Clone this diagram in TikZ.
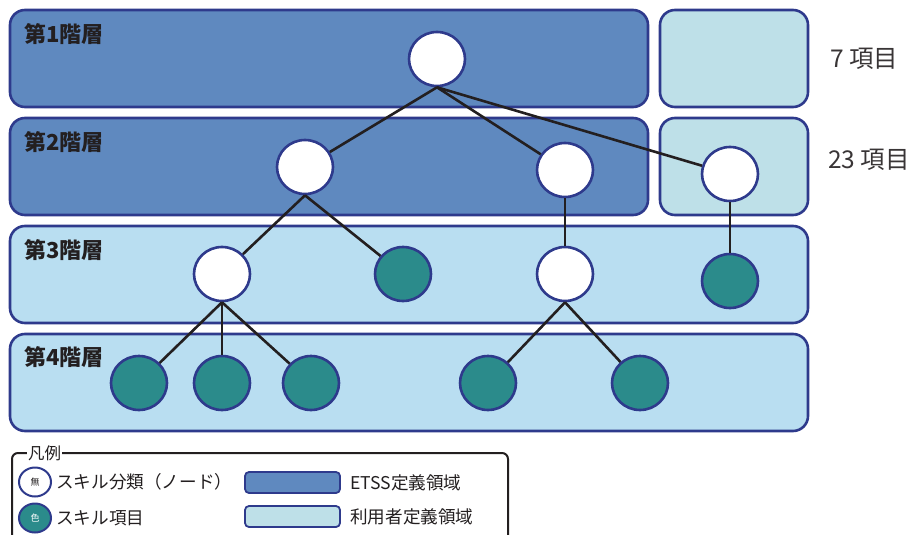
\documentclass[tikz,border=0pt]{standalone}
\usepackage{fontspec}
\setmainfont{Noto Sans CJK JP}
\usetikzlibrary{shapes.geometric}
\definecolor{navy}{HTML}{2E3A8C}
\definecolor{etss}{HTML}{5F89BF}
\definecolor{user}{HTML}{BEE0E8}
\definecolor{tier}{HTML}{B9DEF1}
\definecolor{skill}{HTML}{2B8B8B}
\definecolor{ink}{HTML}{231F20}
\tikzset{
  area/.style={draw=navy, line width=2.6pt, rounded corners=15pt},
  cls/.style={ellipse, draw=navy, line width=2.6pt, fill=white, minimum width=56pt, minimum height=54pt, inner sep=0pt},
  item/.style={cls, fill=skill},
  link/.style={draw=ink, line width=2.6pt},
  tierlab/.style={font=\fontsize{22}{22}\selectfont\bfseries, text=ink, anchor=west, inner sep=0pt},
  count/.style={font=\fontsize{24.5}{24.5}\selectfont, text=ink!90, anchor=west, inner sep=0pt},
  leg/.style={font=\fontsize{17.6}{17.6}\selectfont, text=ink, anchor=west, inner sep=0pt},
  legcls/.style={ellipse, draw=navy, line width=2pt, minimum width=32pt, minimum height=29pt, inner sep=0pt, font=\fontsize{9}{9}\selectfont},
  legbox/.style={draw=navy, line width=1.8pt, rounded corners=4pt},
}
\begin{document}
\begin{tikzpicture}[x=1pt,y=-1pt]
  \useasboundingbox (0,0) rectangle (915,535);

  \draw[area, fill=etss] (10,10) rectangle (648,107);
  \draw[area, fill=user] (660,10) rectangle (808,107);
  \draw[area, fill=etss] (10,118) rectangle (648,215);
  \draw[area, fill=user] (660,118) rectangle (808,215);
  \draw[area, fill=tier] (10,226) rectangle (808,323);
  \draw[area, fill=tier] (10,334) rectangle (808,431);

  \node[tierlab] (t1) at (24,34) {第1階層};
  \node[tierlab] (t2) at (24,142) {第2階層};
  \node[tierlab] (t3) at (24,250) {第3階層};
  \node[tierlab] (t4) at (24,357) {第4階層};
  \node[count] (c1) at (830,59) {7 項目};
  \node[count] (c2) at (828,160) {23 項目};

  \node[cls] (n1) at (437,59) {};
  \node[cls] (n21) at (305,167) {};
  \node[cls] (n22) at (565,170) {};
  \node[cls] (n23) at (730,174) {};
  \node[cls] (n31) at (222,274) {};
  \node[item] (n32) at (403,274) {};
  \node[cls] (n33) at (565,274) {};
  \node[item] (n34) at (730,281) {};
  \node[item] (n41) at (139,383) {};
  \node[item] (n42) at (222,383) {};
  \node[item] (n43) at (311,383) {};
  \node[item] (n44) at (488,383) {};
  \node[item] (n45) at (640,383) {};

  \draw[link] (n1.south) -- (n21);
  \draw[link] (n1.south) -- (n22);
  \draw[link] (n1.south) -- (n23);
  \draw[link] (n21.south) -- (n31);
  \draw[link] (n21.south) -- (n32);
  \draw[link] (n22) -- (n33);
  \draw[link] (n23) -- (n34);
  \draw[link] (n31.south) -- (n41);
  \draw[link] (n31.south) -- (n42);
  \draw[link] (n31.south) -- (n43);
  \draw[link] (n33.south) -- (n44);
  \draw[link] (n33.south) -- (n45);

  % legend
  \draw[draw=ink, line width=2pt, rounded corners=6pt] (12,545) -- (12,453) -- (508,453) -- (508,545);
  \node[leg, fill=white, inner xsep=1pt, font=\fontsize{16.5}{16.5}\selectfont] (lt) at (27,453) {凡例};
  \node[legcls, fill=white, text=ink] (l1) at (35,482) {無};
  \node[legcls, fill=skill, text=white] (l2) at (35,518) {色};
  \node[leg] (l1t) at (56,482) {スキル分類（ノード）};
  \node[leg] (l2t) at (56,518) {スキル項目};
  \draw[legbox, fill=etss] (245,472) rectangle (340,493);
  \draw[legbox, fill=user] (245,506) rectangle (340,527);
  \node[leg] (l3t) at (350,483) {ETSS定義領域};
  \node[leg] (l4t) at (350,517) {利用者定義領域};
\end{tikzpicture}
\end{document}
